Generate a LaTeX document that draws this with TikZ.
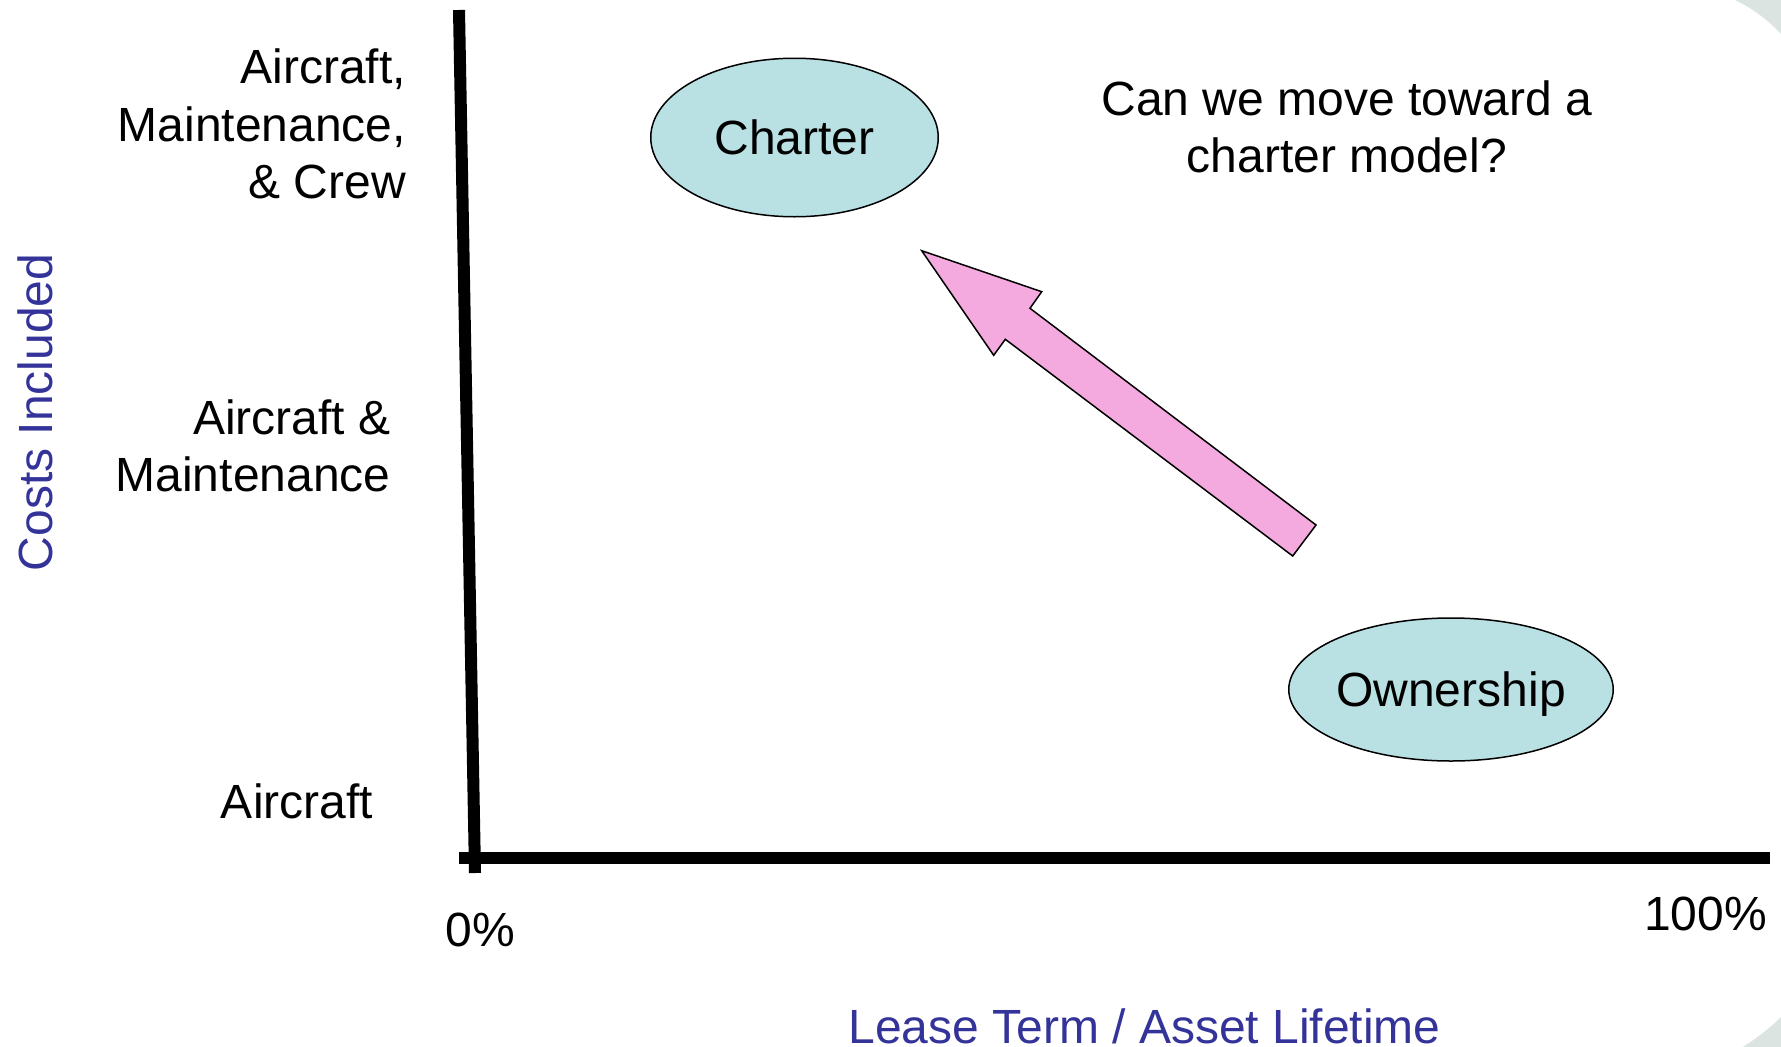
\documentclass[tikz,border=0pt]{standalone}
\usepackage{fontspec}
\setmainfont{Liberation Sans}
\usetikzlibrary{shapes.geometric}
\definecolor{ovalfill}{RGB}{185,224,227}
\definecolor{arrowpink}{RGB}{244,170,222}
\definecolor{axisblue}{RGB}{51,51,153}
\definecolor{cornergrey}{RGB}{220,228,226}
\tikzset{
  bigfont/.style={font=\fontsize{48}{57.5}\selectfont},
  lbl/.style={bigfont, inner sep=0pt, outer sep=0pt},
  axistitle/.style={lbl, text=axisblue},
  oval/.style={ellipse, draw, line width=1.5pt, fill=ovalfill, inner sep=0pt,
               bigfont, text height=34.4pt, text depth=0pt},
  axisline/.style={line width=12pt, line cap=butt},
  blockarrow/.style={draw, line width=1.5pt, fill=arrowpink, line join=miter}
}
\begin{document}
\begin{tikzpicture}[x=1pt,y=-1pt]
  \useasboundingbox (0,0) rectangle (1781,1047);
  \fill[white] (0,0) rectangle (1781,1047);
  % background corner decorations
  \fill[cornergrey] (1735,0) .. controls (1752,8) and (1768,20) .. (1781,34) -- (1781,0) -- cycle;
  \fill[cornergrey] (1743,1047) .. controls (1757,1038) and (1770,1028) .. (1781,1017) -- (1781,1047) -- cycle;

  % axes
  \coordinate (ytop) at (459,10);
  \coordinate (ybot) at (475,873);
  \coordinate (xleft) at (459,858);
  \coordinate (xright) at (1770,858);
  \draw[axisline] (ytop) -- (ybot);
  \draw[axisline, line width=11.5pt] (xleft) -- (xright);

  % y-axis category labels
  \node[lbl, anchor=base east] (ycrew) at (406,83.5)
    {\begin{tabular}[t]{@{}r@{}}Aircraft,\\Maintenance,\\\& Crew\end{tabular}};
  \node[lbl, anchor=base east] (ymaint) at (390.5,434)
    {\begin{tabular}[t]{@{}r@{}}Aircraft \&\\Maintenance\end{tabular}};
  \node[lbl, anchor=base east] (yair) at (373,818) {Aircraft};

  % x-axis labels
  \node[lbl, anchor=base] (xzero) at (480.5,946.7) {0\%};
  \node[lbl, anchor=base east] (xfull) at (1767,930) {100\%};

  % axis titles
  \node[axistitle, anchor=base, rotate=90] (ytitle) at (52.4,412.4) {Costs Included};
  \node[axistitle, anchor=base] (xtitle) at (1144.5,1043) {Lease Term / Asset Lifetime};

  % question
  \node[lbl, anchor=base] (question) at (1347,115)
    {\begin{tabular}[t]{@{}c@{}}Can we move toward a\\charter model?\end{tabular}};

  % ovals
  \node[oval, minimum width=287.5pt, minimum height=158.5pt] (charter) at (794.5,137.5) {Charter};
  \node[oval, minimum width=320pt, minimum height=143pt] (ownership) at (1451,689.5) {Ownership};

  % block arrow from ownership toward charter
  \path[blockarrow] (921.7,250.7) -- (1041.7,291.7) -- (1030,308.3) -- (1316,525)
     -- (1292.7,556) -- (1005.3,339.3) -- (993.7,355.3) -- cycle;
\end{tikzpicture}
\end{document}
